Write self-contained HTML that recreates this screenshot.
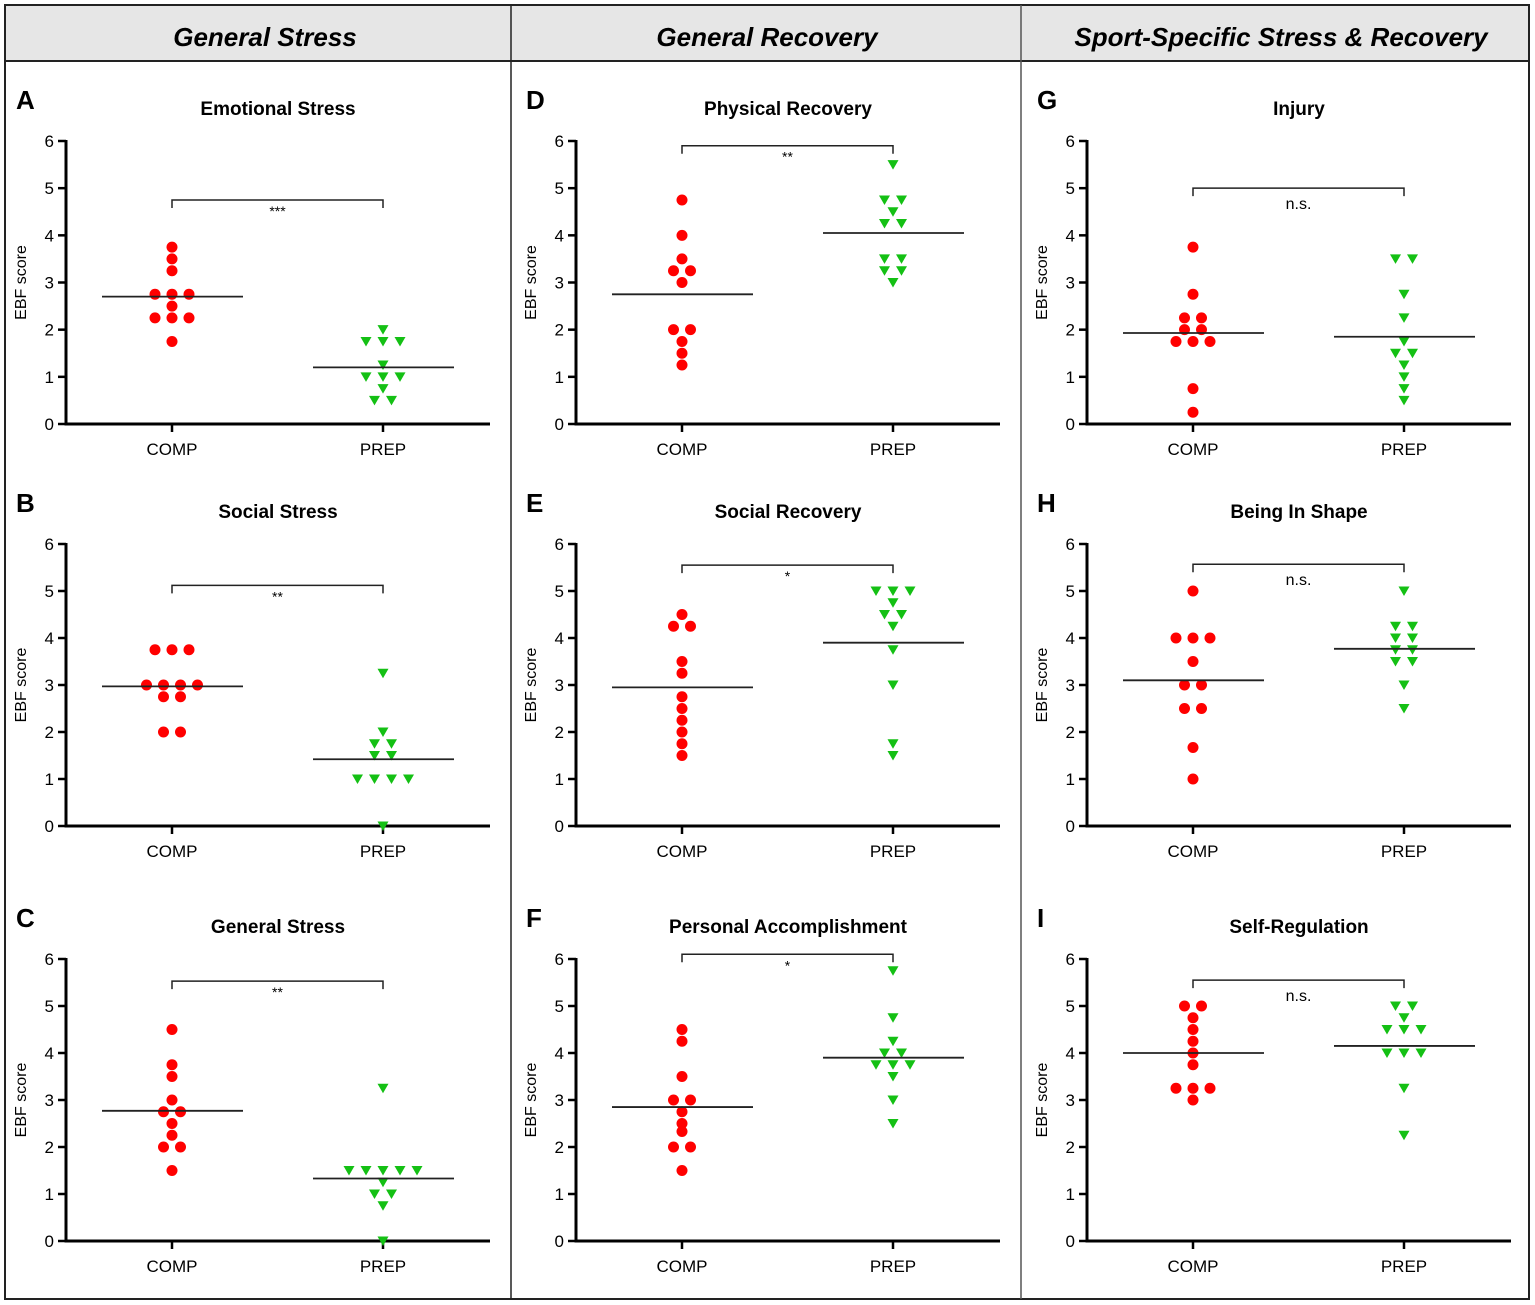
<!DOCTYPE html>
<html><head><meta charset="utf-8"><style>
body{margin:0;background:#fff;}
svg{display:block;font-family:"Liberation Sans",Arial,sans-serif;}
</style></head><body>
<svg id="fig" width="1535" height="1305" viewBox="0 0 1535 1305" xmlns="http://www.w3.org/2000/svg">
<rect x="5" y="5" width="1524" height="1294" fill="#fff" stroke="#222" stroke-width="2"/>
<rect x="6" y="6" width="1522" height="55" fill="#e6e6e6"/>
<line x1="5" y1="61" x2="1529" y2="61" stroke="#222" stroke-width="2"/>
<line x1="511" y1="5" x2="511" y2="1299" stroke="#222" stroke-width="1.5"/>
<line x1="1021" y1="5" x2="1021" y2="1299" stroke="#555" stroke-width="1.5"/>
<text x="265" y="46" text-anchor="middle" font-size="26" font-weight="bold" font-style="italic">General Stress</text>
<text x="767" y="46" text-anchor="middle" font-size="26" font-weight="bold" font-style="italic">General Recovery</text>
<text x="1281" y="46" text-anchor="middle" font-size="26" font-weight="bold" font-style="italic">Sport-Specific Stress &amp; Recovery</text>
<g id="panels"></g>
</svg>
<script>
const panelLetters = ["A","B","C","D","E","F","G","H","I"];
const panelTitles = ["Emotional Stress","Social Stress","General Stress","Physical Recovery","Social Recovery","Personal Accomplishment","Injury","Being In Shape","Self-Regulation"];
const groupLabels = ["COMP","PREP"];
const yTicks = [0,1,2,3,4,5,6];
const compValues = [
 [3.75,3.5,3.25,2.75,2.75,2.75,2.5,2.25,2.25,2.25,1.75],
 [3.75,3.75,3.75,3,3,3,3,2.75,2.75,2,2],
 [4.5,3.75,3.5,3,2.75,2.75,2.5,2.25,2,2,1.5],
 [4.75,4,3.5,3.25,3.25,3,2,2,1.75,1.5,1.25],
 [4.5,4.25,4.25,3.5,3.25,2.75,2.5,2.25,2,1.75,1.5],
 [4.5,4.25,3.5,3,3,2.75,2.5,2.33,2,2,1.5],
 [3.75,2.75,2.25,2.25,2,2,1.75,1.75,1.75,0.75,0.25],
 [5,4,4,4,3.5,3,3,2.5,2.5,1.67,1],
 [5,5,4.75,4.5,4.25,4,3.75,3.25,3.25,3.25,3]
];
const prepValues = [
 [2,1.75,1.75,1.75,1.25,1,1,1,0.75,0.5,0.5],
 [3.25,2,1.75,1.75,1.5,1.5,1,1,1,1,0],
 [3.25,1.5,1.5,1.5,1.5,1.5,1.25,1,1,0.75,0],
 [5.5,4.75,4.75,4.5,4.25,4.25,3.5,3.5,3.25,3.25,3],
 [5,5,5,4.75,4.5,4.5,4.25,3.75,3,1.75,1.5],
 [5.75,4.75,4.25,4,4,3.75,3.75,3.75,3.5,3,2.5],
 [3.5,3.5,2.75,2.25,1.75,1.5,1.5,1.25,1,0.75,0.5],
 [5,4.25,4.25,4,4,3.75,3.75,3.5,3.5,3,2.5],
 [5,5,4.75,4.5,4.5,4.5,4,4,4,3.25,2.25]
];
const compMeans = [2.7,2.97,2.77,2.75,2.95,2.85,1.93,3.1,4.0];
const prepMeans = [1.2,1.42,1.33,4.05,3.9,3.9,1.85,3.77,4.15];
const bracketLevels = [4.75,5.12,5.53,5.9,5.55,6.1,5.0,5.57,5.55];
const sigLabels = ["***","**","**","**","*","*","n.s.","n.s.","n.s."];

const NS="http://www.w3.org/2000/svg";
const root=document.getElementById('panels');
const colAxisX=[66,576,1087], colEnd=[490,1000,1511];
const rowY0=[424,826,1241], rowY6=[141,544,959];
function mk(tag,attrs,parent){const e=document.createElementNS(NS,tag);for(const k in attrs)e.setAttribute(k,attrs[k]);(parent||root).appendChild(e);return e;}

for(let p=0;p<9;p++){
  const col=Math.floor(p/3), row=p%3;
  const ax=colAxisX[col], xe=colEnd[col];
  const y0=rowY0[row], y6=rowY6[row];
  const yS=v=>y0-(v/6)*(y0-y6);
  const gx=[ax+106, ax+317];
  const g=mk('g',{});
  
  
  const L=mk('text',{x:ax-50,y:y6-32,'font-size':26,'font-weight':'bold'},g);L.textContent=panelLetters[p];
  
  
  const T=mk('text',{x:ax+212,y:y6-26,'text-anchor':'middle','font-size':19,'font-weight':'bold'},g);T.textContent=panelTitles[p];
  
  
  const YT=mk('text',{transform:`translate(${ax-40},${(y0+y6)/2}) rotate(-90)`,'text-anchor':'middle','font-size':16},g);YT.textContent='EBF score';
  
  
  const ya=mk('line',{x1:ax,y1:y6-1,x2:ax,y2:y0+1.5,stroke:'#000','stroke-width':3},g);
  
  
  const xa=mk('line',{x1:ax-1.5,y1:y0,x2:xe,y2:y0,stroke:'#000','stroke-width':3},g);
  
  
  yTicks.forEach(t=>{
    mk('line',{x1:ax-8,y1:yS(t),x2:ax,y2:yS(t),stroke:'#000','stroke-width':2.5},g);
    const tl=mk('text',{x:ax-12,y:yS(t)+6,'text-anchor':'end','font-size':17},g);tl.textContent=t;
    
    
  });
  groupLabels.forEach((lab,i)=>{
    mk('line',{x1:gx[i],y1:y0,x2:gx[i],y2:y0+8,stroke:'#000','stroke-width':2.5},g);
    const xl=mk('text',{x:gx[i],y:y0+31,'text-anchor':'middle','font-size':17},g);xl.textContent=lab;
    
    
  });
  // bracket
  const by=yS(bracketLevels[p]);
  const br=mk('path',{d:`M${gx[0]} ${by+8} V${by} H${gx[1]} V${by+8}`,fill:'none',stroke:'#222','stroke-width':1.5},g);
  
  
  const ns=sigLabels[p]==='n.s.';
  const sl=mk('text',{x:(gx[0]+gx[1])/2,y:ns?by+21:by+16,'text-anchor':'middle','font-size':ns?16:14},g);sl.textContent=sigLabels[p];
  
  
  // points
  [compValues[p],prepValues[p]].forEach((vals,gi)=>{
    const counts={};vals.forEach(v=>counts[v]=(counts[v]||0)+1);
    const seen={};
    vals.forEach(v=>{
      const n=counts[v];const k=seen[v]||0;seen[v]=k+1;
      const cx=gx[gi]+(k-(n-1)/2)*17, cy=yS(v);
      let m;
      if(gi===0){m=mk('circle',{cx:cx,cy:cy,r:5.5,fill:'#ff0000'},g);
        }
      else{m=mk('path',{d:`M${cx-5.5} ${cy-4.5} H${cx+5.5} L${cx} ${cy+5} Z`,fill:'#14c014'},g);
        }
      
    });
  });
  [compMeans[p],prepMeans[p]].forEach((mv,i)=>{
    const ml=mk('line',{x1:gx[i]-70,y1:yS(mv),x2:gx[i]+71,y2:yS(mv),stroke:'#222','stroke-width':1.8},g);
    
    
  });
}
</script>
</body></html>
